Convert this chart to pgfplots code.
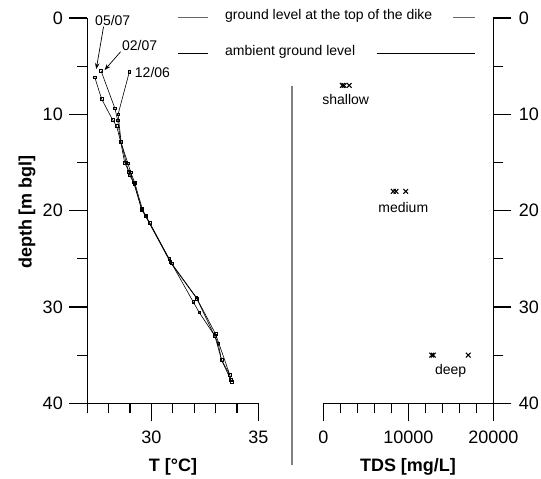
\documentclass[border=0pt]{standalone}
\usepackage{fontspec}
\setmainfont{Liberation Sans}
\usepackage{pgfplots}
\pgfplotsset{compat=1.18}
\usetikzlibrary{arrows.meta}
\begin{document}
\begin{tikzpicture}
\useasboundingbox (0pt,0pt) rectangle (541pt,479pt);
\pgfplotsset{
 common/.style={
  scale only axis,
  y dir=reverse, ymin=0, ymax=40,
  ytick={0,10,20,30,40}, minor ytick={5,15,25,35},
  tick align=outside,
  major tick length=18pt, minor tick length=10pt,
  every tick/.style={black, line width=1.2pt},
  axis line style={line width=1.2pt, -},
  tick label style={font=\fontsize{18}{20}\selectfont},
  xticklabel style={yshift=-6pt},
  /pgf/number format/assume math mode=true,
  /pgf/number format/1000 sep={},
  /pgf/number format/fixed,
  clip=false,
 },
 tplot/.style={black, line width=0.6pt, mark=square, mark size=1.3pt, mark options={solid, line width=0.5pt}},
 tds/.style={only marks, black, mark=x, mark size=3.3pt, mark options={line width=1.1pt}},
}
% ---------------- left: temperature ----------------
\begin{axis}[common, at={(87.3pt,75.7pt)}, anchor=south west, width=171pt, height=385.3pt,
  xmin=27, xmax=35, xtick={30,35}, minor xtick={27,28,29,31,32,33,34},
  yticklabel style={xshift=-3pt},
  axis x line*=bottom, axis y line*=left]
% 05/07
\addplot[tplot] coordinates {
(27.35,6.16)(27.67,8.41)(28.19,10.59)(28.37,11.21)(28.56,12.84)(28.75,15.02)
(28.95,15.96)(29.18,17.06)(29.53,19.76)(29.92,21.25)(30.83,25.02)(31.95,29.45)
(32.23,30.55)(32.97,33.01)(33.28,35.50)(33.67,37.06)};
% 02/07
\addplot[tplot] coordinates {
(27.64,5.47)(28.29,9.37)(28.42,10.6)(28.56,12.84)(28.90,15.08)(29.03,16.0)
(29.22,17.1)(29.57,19.8)(29.73,20.55)(30.94,25.46)(32.10,29.0)(33.0,32.8)
(33.67,37.06)(33.72,37.58)};
% 12/06
\addplot[tplot] coordinates {
(28.97,5.57)(28.44,10.0)(28.58,12.84)(28.82,15.05)(28.98,16.3)(29.19,17.23)
(29.55,19.93)(29.72,20.55)(30.88,25.33)(32.12,29.12)(33.12,33.77)(33.28,35.5)
(33.75,37.75)};
\node[font=\fontsize{14}{16}\selectfont] at (axis cs:28.19,0.21) {05/07};
\node[font=\fontsize{14}{16}\selectfont] at (axis cs:29.45,2.9) {02/07};
\node[font=\fontsize{14}{16}\selectfont, anchor=west, inner sep=0pt] at (axis cs:29.22,5.66) {12/06};
\draw[line width=0.7pt, -{Stealth[length=6pt,width=4.5pt]}] (axis cs:27.76,0.9) -- (axis cs:27.42,5.3);
\draw[line width=0.7pt, -{Stealth[length=6pt,width=4.5pt]}] (axis cs:28.56,3.5) -- (axis cs:27.81,5.4);
\end{axis}
% ---------------- right: TDS ----------------
\begin{axis}[common, at={(323.3pt,75.7pt)}, anchor=south west, width=170pt, height=385.3pt,
  xmin=0, xmax=20000, xtick={0,10000,20000}, minor xtick={2000,4000,6000,8000,12000,14000,16000,18000},
  scaled x ticks=false,
  yticklabel style={xshift=4pt},
  axis x line*=bottom, axis y line*=right]
\addplot[tds] coordinates {(2250,7)(8230,18)(12750,35)};
\addplot[tds] coordinates {(2450,7)(8550,18)(12940,35)};
\addplot[tds] coordinates {(3050,7)(9690,18)(17050,35)};
\node[font=\fontsize{14}{16}\selectfont] at (axis cs:2634,8.51) {shallow};
\node[font=\fontsize{14}{16}\selectfont] at (axis cs:9410,19.65) {medium};
\node[font=\fontsize{14}{16}\selectfont] at (axis cs:14985,36.65) {deep};
\end{axis}
% ---------------- annotations ----------------
\draw[gray, line width=1.2pt] (292pt,393pt) -- (292pt,14pt);
\draw[black!60, line width=0.9pt] (178pt,461.7pt) -- (208pt,461.7pt) (453pt,461.7pt) -- (475pt,461.7pt);
\draw[black, line width=0.8pt] (178pt,425.7pt) -- (208pt,425.7pt) (376.7pt,425.7pt) -- (475pt,425.7pt);
\node[anchor=mid west, inner sep=0pt, font=\fontsize{14}{16}\selectfont] at (225pt,461.7pt) {ground level at the top of the dike};
\node[anchor=mid west, inner sep=0pt, font=\fontsize{14}{16}\selectfont] at (225pt,425.7pt) {ambient ground level};
\node[rotate=90, font=\fontsize{18}{20}\selectfont\bfseries] at (27pt,267pt) {depth [m bgl]};
\node[font=\fontsize{18}{20}\selectfont\bfseries] at (173pt,12pt) {T [°C]};
\node[font=\fontsize{18}{20}\selectfont\bfseries] at (408pt,12pt) {TDS [mg/L]};
\end{tikzpicture}
\end{document}
